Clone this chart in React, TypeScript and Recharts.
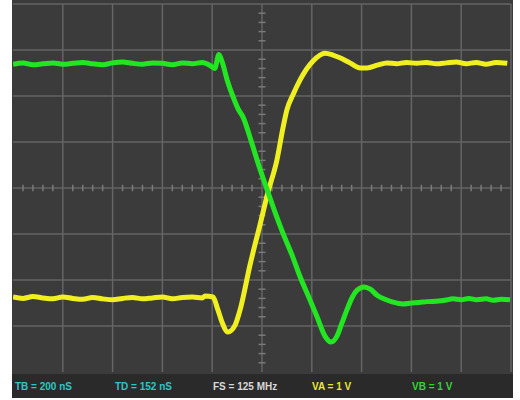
import React from 'react';
import { LineChart, Line, XAxis, YAxis, CartesianGrid, ReferenceLine } from 'recharts';

// Channel B (green) trace: time in ns, amplitude in volts (1 V/div)
const greenTimeNs = [
  -1000, -960, -920, -880, -840, -800, -760, -720, -680, -640, -600, -560, -520, -480, -440, -400, -360, -320, -280, -240, -210,
  -190, -173, -160, -140, -116, -96, -76, -48, -20, 24, 54, 84, 120, 153, 190, 221, 253, 277, 301, 320, 341, 362, 382, 410, 435,
  462, 494, 526, 566, 600, 630, 663, 700, 735, 767, 800, 830, 863, 900, 930, 960, 996,
];
const greenVolts = [
  2.69, 2.72, 2.68, 2.7, 2.72, 2.69, 2.71, 2.73, 2.7, 2.68, 2.72, 2.74, 2.71, 2.69, 2.72, 2.71, 2.68, 2.72, 2.7, 2.73, 2.67,
  2.6, 2.9, 2.74, 2.35, 1.98, 1.72, 1.54, 1.1, 0.61, -0.09, -0.55, -0.98, -1.45, -1.93, -2.4, -2.8, -3.22, -3.35, -3.22, -2.95, -2.65, -2.38, -2.22, -2.15, -2.2,
  -2.33, -2.42, -2.48, -2.52, -2.5, -2.49, -2.47, -2.46, -2.44, -2.41, -2.43, -2.4, -2.43, -2.41, -2.44, -2.42, -2.43,
];

// Channel A (yellow) trace
const yellowTimeNs = [
  -1000, -960, -920, -880, -840, -800, -760, -720, -680, -640, -600, -560, -520, -480, -440, -400, -360, -320, -280, -240,
  -229, -197, -177, -161, -137, -108, -88, -48, -8, 24, 60, 84, 100, 124, 153, 205, 253, 285, 313, 353, 394, 422, 462, 502,
  540, 580, 620, 660, 700, 740, 780, 820, 860, 900, 940, 985,
];
const yellowVolts = [
  -2.37, -2.4, -2.36, -2.39, -2.41, -2.37, -2.4, -2.42, -2.38, -2.41, -2.43, -2.4, -2.38, -2.41, -2.39, -2.37, -2.41, -2.38, -2.37, -2.39,
  -2.35, -2.37, -2.65, -2.91, -3.13, -2.98, -2.65, -1.67, -0.8, -0.09, 0.61, 1.3, 1.7, 2.02, 2.35, 2.76, 2.93, 2.89, 2.83, 2.72, 2.61, 2.61, 2.67, 2.72,
  2.7, 2.73, 2.71, 2.73, 2.7, 2.72, 2.74, 2.7, 2.73, 2.69, 2.73, 2.71,
];

// Graticule: 10 horizontal divisions of 200 ns, 8 vertical divisions of 1 V
const gridTimeTicks = [-1000, -800, -600, -400, -200, 0, 200, 400, 600, 800, 1000];
const gridVoltTicks = [-4, -3, -2, -1, 0, 1, 2, 3, 4];
const minorTimeTicks = [
  -960, -920, -880, -840, -760, -720, -680, -640, -560, -520, -480, -440, -360, -320, -280, -240, -160, -120, -80, -40,
  40, 80, 120, 160, 240, 280, 320, 360, 440, 480, 520, 560, 640, 680, 720, 760, 840, 880, 920, 960,
];
const minorVoltTicks = [
  -3.8, -3.6, -3.4, -3.2, -2.8, -2.6, -2.4, -2.2, -1.8, -1.6, -1.4, -1.2, -0.8, -0.6, -0.4, -0.2,
  0.2, 0.4, 0.6, 0.8, 1.2, 1.4, 1.6, 1.8, 2.2, 2.4, 2.6, 2.8, 3.2, 3.4, 3.6, 3.8,
];

const readoutLabels = ['TB = 200 nS', 'TD = 152 nS', 'FS = 125 MHz', 'VA = 1 V', 'VB = 1 V'];
const readoutColors = ['#2cc6c6', '#2cc6c6', '#d8d8d8', '#e8e830', '#2ed82e'];
const readoutLeft = [3, 103, 201, 300, 400];

const greenData = greenTimeNs.map((t, i) => ({ t, v: greenVolts[i] }));
const yellowData = yellowTimeNs.map((t, i) => ({ t, v: yellowVolts[i] }));

export default function App() {
  return (
    <div
      style={{
        position: 'absolute',
        left: 12,
        top: 0,
        width: 501,
        height: 398,
        background: '#3b3b3b',
      }}
    >
      <LineChart width={501} height={372} margin={{ top: 4, right: 2, bottom: 0, left: 1 }}>
        <XAxis dataKey="t" type="number" domain={[-1000, 1000]} ticks={gridTimeTicks} hide allowDataOverflow />
        <YAxis type="number" domain={[-4, 4]} ticks={gridVoltTicks} hide allowDataOverflow />
        <CartesianGrid
          stroke="#656565"
          strokeWidth={1.5}
          horizontalValues={gridVoltTicks}
          verticalValues={gridTimeTicks}
        />
        {minorTimeTicks.map((t) => (
          <ReferenceLine
            key={'mt' + t}
            segment={[
              { x: t, y: -0.07 },
              { x: t, y: 0.07 },
            ]}
            stroke="#7a7a7a"
            strokeWidth={1.5}
          />
        ))}
        {minorVoltTicks.map((v) => (
          <ReferenceLine
            key={'mv' + v}
            segment={[
              { x: -14, y: v },
              { x: 14, y: v },
            ]}
            stroke="#7a7a7a"
            strokeWidth={1.5}
          />
        ))}
        <Line
          data={yellowData}
          dataKey="v"
          type="monotone"
          stroke="#f0f020"
          strokeWidth={5}
          strokeLinejoin="round"
          dot={false}
          isAnimationActive={false}
        />
        <Line
          data={greenData}
          dataKey="v"
          type="monotone"
          stroke="#22e622"
          strokeWidth={5}
          strokeLinejoin="round"
          dot={false}
          isAnimationActive={false}
        />
      </LineChart>
      <div
        style={{
          position: 'absolute',
          left: 0,
          top: 374,
          width: 501,
          height: 24,
          background: '#2a2a2a',
        }}
      >
        {readoutLabels.map((label, i) => (
          <span
            key={label}
            style={{
              position: 'absolute',
              left: readoutLeft[i],
              top: 8,
              fontFamily: '"Liberation Sans", Arial, sans-serif',
              fontWeight: 'bold',
              fontSize: 10,
              lineHeight: '10px',
              color: readoutColors[i],
              whiteSpace: 'nowrap',
            }}
          >
            {label}
          </span>
        ))}
      </div>
    </div>
  );
}
